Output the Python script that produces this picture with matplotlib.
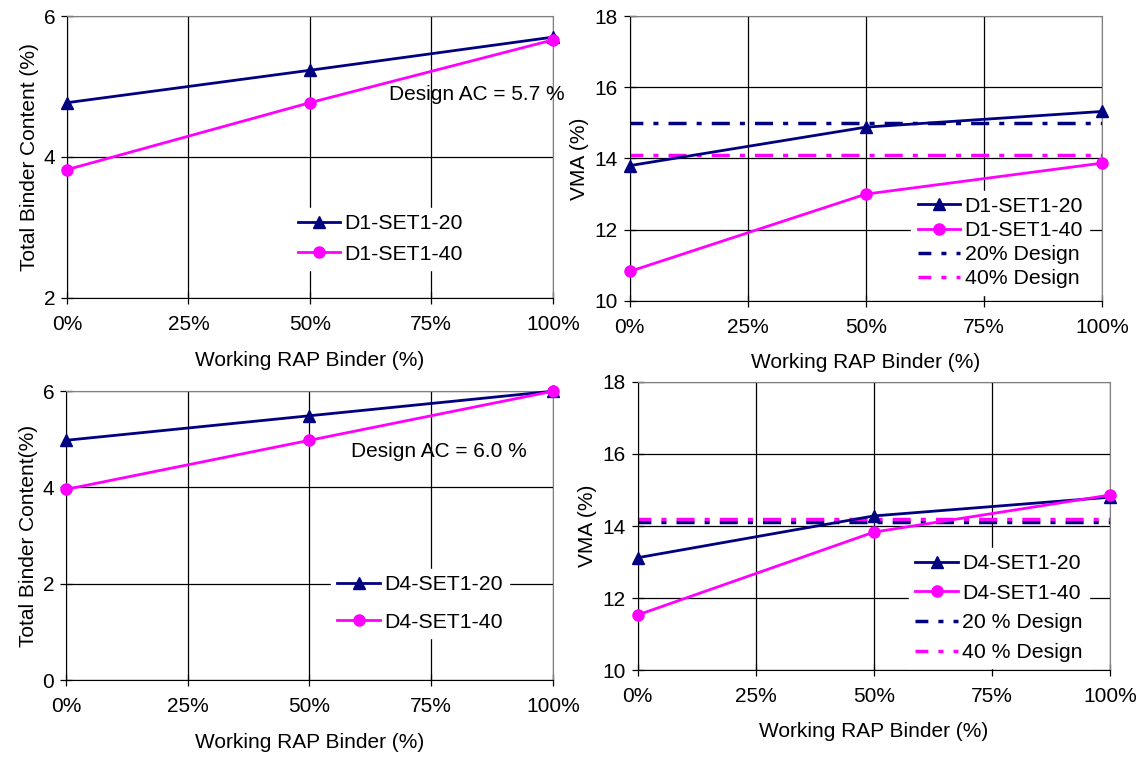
import matplotlib
matplotlib.use("Agg")
from matplotlib import pyplot as plt
from matplotlib.ticker import FuncFormatter

plt.rcParams['font.family'] = ['Liberation Sans', 'DejaVu Sans']
plt.rcParams['font.size'] = 15

NAVY = "#000080"
MAGENTA = "#FF00FF"

rap_binder = [0, 50, 100]

# D1 mixes
d1_binder_20 = [4.77, 5.23, 5.70]
d1_binder_40 = [3.82, 4.77, 5.66]
d1_vma_20 = [13.80, 14.88, 15.32]
d1_vma_40 = [10.83, 13.00, 13.87]
d1_design_20 = 15.0
d1_design_40 = 14.1

# D4 mixes
d4_binder_20 = [4.98, 5.49, 6.00]
d4_binder_40 = [3.96, 4.98, 6.00]
d4_vma_20 = [13.12, 14.28, 14.80]
d4_vma_40 = [11.53, 13.83, 14.86]
d4_design_20 = 14.1
d4_design_40 = 14.2

x_ticks = [0, 25, 50, 75, 100]
dashdot = (1.5, (5.2, 2.9, 1.45, 2.9))


def style_axes(ax, ylim, yticks, xpad, xlabelpad):
    ax.set_xlim(0, 100)
    ax.set_ylim(*ylim)
    ax.set_xticks(x_ticks)
    ax.set_yticks(yticks)
    ax.xaxis.set_major_formatter(FuncFormatter(lambda v, p: f"{v:.0f}%"))
    ax.grid(True, color="black", linewidth=0.9)
    ax.set_axisbelow(True)
    for side in ("top", "right"):
        ax.spines[side].set_color("#808080")
    for side in ("left", "bottom"):
        ax.spines[side].set_color("black")
    ax.tick_params(direction="inout", length=9, width=0.9)
    ax.tick_params(axis="x", pad=xpad)
    ax.tick_params(axis="y", pad=4)
    ax.set_xlabel("Working RAP Binder (%)", labelpad=xlabelpad)


def binder_panel(ax, s20, s40, name20, name40, ylim, yticks, ylabel, design_text, text_xy, legend_box, spacing):
    ax.plot(rap_binder, s20, color=NAVY, marker="^", markersize=8, linewidth=2, label=name20, clip_on=False, zorder=3)
    ax.plot(rap_binder, s40, color=MAGENTA, marker="o", markersize=8, linewidth=2, label=name40, clip_on=False, zorder=3)
    style_axes(ax, ylim, yticks, 8, 12)
    ax.set_ylabel(ylabel, labelpad=3)
    ax.text(text_xy[0], text_xy[1], design_text, transform=ax.transAxes, va="center", clip_on=False)
    ax.legend(loc="center", bbox_to_anchor=legend_box, frameon=True, fancybox=False,
              edgecolor="white", framealpha=1, handlelength=2.0, handletextpad=0.2,
              labelspacing=spacing, borderpad=0.3, fontsize=15.3)


def vma_panel(ax, s20, s40, d20, d40, names, legend_box, spacing):
    ax.plot(rap_binder, s20, color=NAVY, marker="^", markersize=8, linewidth=2, label=names[0], clip_on=False, zorder=3)
    ax.plot(rap_binder, s40, color=MAGENTA, marker="o", markersize=8, linewidth=2, label=names[1], clip_on=False, zorder=3)
    ax.axhline(d20, color=NAVY, linestyle=dashdot, linewidth=2.5, label=names[2], zorder=2)
    ax.axhline(d40, color=MAGENTA, linestyle=dashdot, linewidth=2.5, label=names[3], zorder=2)
    style_axes(ax, (10, 18), [10, 12, 14, 16, 18], 8, 11)
    ax.set_ylabel("VMA (%)", labelpad=4)
    ax.legend(loc="center", bbox_to_anchor=legend_box, frameon=True, fancybox=False,
              edgecolor="white", framealpha=1, handlelength=2.0, handletextpad=0.2,
              labelspacing=spacing, borderpad=0.3, fontsize=15.3)


fig = plt.figure(figsize=(11.43, 7.62), dpi=100)
ax1 = fig.add_axes([0.0586, 0.609, 0.425, 0.370])
ax2 = fig.add_axes([0.551, 0.605, 0.413, 0.374])
ax3 = fig.add_axes([0.0577, 0.1076, 0.426, 0.379])
ax4 = fig.add_axes([0.558, 0.1207, 0.413, 0.378])

binder_panel(ax1, d1_binder_20, d1_binder_40, "D1-SET1-20", "D1-SET1-40",
             (2, 6), [2, 4, 6], "Total Binder Content (%)",
             "Design AC = 5.7 %", (0.662, 0.72), (0.645, 0.209), 0.55)
vma_panel(ax2, d1_vma_20, d1_vma_40, d1_design_20, d1_design_40,
          ["D1-SET1-20", "D1-SET1-40", "20% Design", "40% Design"], (0.785, 0.205), 0.24)

binder_panel(ax3, d4_binder_20, d4_binder_40, "D4-SET1-20", "D4-SET1-40",
             (0, 6), [0, 2, 4, 6], "Total Binder Content(%)",
             "Design AC = 6.0 %", (0.586, 0.79), (0.727, 0.265), 0.87)
vma_panel(ax4, d4_vma_20, d4_vma_40, d4_design_20, d4_design_40,
          ["D4-SET1-20", "D4-SET1-40", "20 % Design", "40 % Design"], (0.765, 0.215), 0.5)

fig.savefig("out.png", dpi=100)
